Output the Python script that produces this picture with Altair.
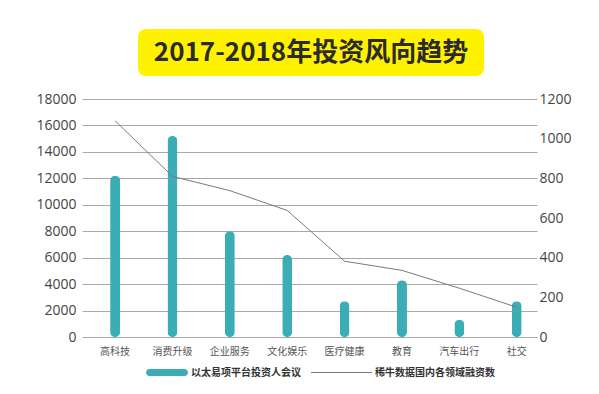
import altair as alt
import pandas as pd

categories = ["高科技", "消费升级", "企业服务", "文化娱乐", "医疗健康", "教育", "汽车出行", "社交"]
investor_meeting = [12200, 15200, 8000, 6200, 2700, 4300, 1300, 2700]
xiniu_counts = [1090, 810, 738, 638, 382, 336, 246, 150]
left_ticks = list(range(0, 18001, 2000))
right_ticks = list(range(0, 1201, 200))

title_text = "2017-2018年投资风向趋势"
series_bar = "以太易项平台投资人会议"
series_line = "稀牛数据国内各领域融资数"

TEAL = "#3aaeb4"
LINE = "#7a7a7a"
CJK = "Noto Sans CJK SC"

df = pd.DataFrame({"cat": categories, "bar": investor_meeting, "line": xiniu_counts})
one = pd.DataFrame({"k": [0]})

W, H = 455, 238

xenc = alt.X(
    "cat:N",
    sort=categories,
    scale=alt.Scale(paddingInner=0.5, paddingOuter=0.215, align=0.76),
    axis=alt.Axis(title=None, labelAngle=0, domain=False, ticks=False, labelPadding=9,
                  labelFontSize=10, labelFont=CJK, labelColor="#555"),
)

bars = alt.Chart(df).mark_bar(size=10, cornerRadius=5, color=TEAL).encode(
    x=xenc,
    y=alt.Y("bar:Q", scale=alt.Scale(domain=[0, 18000], nice=False),
            axis=alt.Axis(title=None, values=left_ticks, format="d", grid=True, gridColor="#a8a8a8",
                          domain=False, ticks=False, labelPadding=6, labelFontSize=14,
                          labelFont="Open Sans", labelColor="#444")),
)

line = alt.Chart(df).mark_line(color=LINE, strokeWidth=1).encode(
    x=alt.X("cat:N", sort=categories),
    y=alt.Y("line:Q", scale=alt.Scale(domain=[0, 1200], nice=False),
            axis=alt.Axis(title=None, orient="right", values=right_ticks, format="d", grid=False,
                          domain=False, ticks=False, labelPadding=2, labelFontSize=14,
                          labelFont="Open Sans", labelColor="#444")),
)

title_box = alt.Chart(one).mark_rect(color="#fff200", cornerRadius=8).encode(
    x=alt.value(56), x2=alt.value(402), y=alt.value(-70), y2=alt.value(-23)
)
title_txt = alt.Chart(one).mark_text(
    text=title_text, font=CJK, fontSize=26, fontWeight="bold", color="#2b2b2b",
    align="center", baseline="middle"
).encode(x=alt.value(229), y=alt.value(-46))

leg_pill = alt.Chart(one).mark_rect(color=TEAL, cornerRadius=3.5).encode(
    x=alt.value(64), x2=alt.value(106), y=alt.value(270), y2=alt.value(277)
)
leg_txt1 = alt.Chart(one).mark_text(
    text=series_bar, font=CJK, fontSize=10, fontWeight="bold", color="#333",
    align="left", baseline="middle"
).encode(x=alt.value(109), y=alt.value(273.5))
leg_line = alt.Chart(one).mark_rule(color=LINE, strokeWidth=1).encode(
    x=alt.value(229), x2=alt.value(290), y=alt.value(273.5)
)
leg_txt2 = alt.Chart(one).mark_text(
    text=series_line, font=CJK, fontSize=10, fontWeight="bold", color="#333",
    align="left", baseline="middle"
).encode(x=alt.value(293), y=alt.value(273.5))

chart = alt.layer(
    bars, line, title_box, title_txt, leg_pill, leg_txt1, leg_line, leg_txt2
).resolve_scale(y="independent").properties(
    width=W, height=H,
    padding={"left": 74, "top": 91, "right": 54, "bottom": 49},
    autosize=alt.AutoSizeParams(type="none"),
    background="white",
).configure_view(stroke=None)

chart.save("out.html", embed_options={"renderer": "svg", "actions": False})
